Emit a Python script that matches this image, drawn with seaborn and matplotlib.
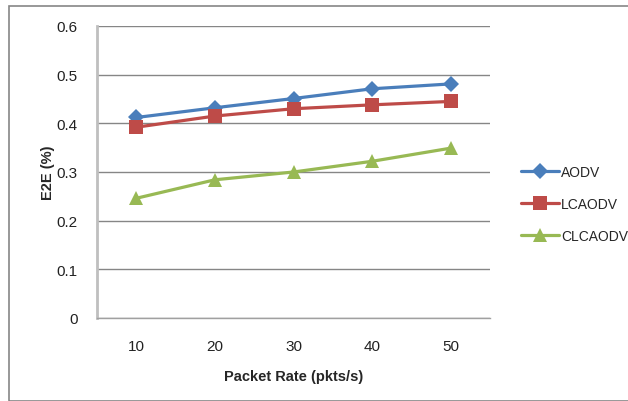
import matplotlib
matplotlib.use("Agg")
import matplotlib.pyplot as plt
import seaborn as sns
import pandas as pd
from matplotlib.patches import Rectangle
from matplotlib.ticker import FixedLocator

categories = ["10", "20", "30", "40", "50"]
aodv = [0.412, 0.432, 0.451, 0.471, 0.481]
lcaodv = [0.392, 0.415, 0.430, 0.438, 0.445]
clcaodv = [0.246, 0.284, 0.300, 0.322, 0.349]
series_names = ["AODV", "LCAODV", "CLCAODV"]
y_ticks = [0, 0.1, 0.2, 0.3, 0.4, 0.5, 0.6]
y_tick_labels = ["0", "0.1", "0.2", "0.3", "0.4", "0.5", "0.6"]

df = pd.DataFrame({
    "rate": categories * 3,
    "value": aodv + lcaodv + clcaodv,
    "series": [series_names[0]] * 5 + [series_names[1]] * 5 + [series_names[2]] * 5,
})

sns.set_theme(style="white")
plt.rcParams["font.family"] = ["Liberation Sans", "DejaVu Sans"]

colors = ["#4A7EBB", "#BE4B48", "#98B954"]
markers = ["D", "s", "^"]
msizes = [8, 10, 10]

fig = plt.figure(figsize=(6.28, 4.02), dpi=100)
ax = fig.add_axes([97 / 628, 1 - 319 / 402, (490 - 97) / 628, (319 - 27) / 402])

for i, name in enumerate(series_names):
    sub = df[df["series"] == name]
    sns.lineplot(data=sub, x="rate", y="value", ax=ax, color=colors[i],
                 marker=markers[i], markersize=msizes[i], markeredgewidth=0,
                 linewidth=2.3, label=name, sort=False)

ax.set_xlim(-0.5, 4.5)
ax.set_ylim(0, 0.6)
ax.set_yticks(y_ticks)
ax.set_yticklabels(y_tick_labels, fontsize=11, color="#222222")
ax.set_xticks(range(len(categories)))
ax.set_xticklabels(categories, fontsize=11, color="#222222")
ax.xaxis.set_minor_locator(FixedLocator([-0.5, 0.5, 1.5, 2.5, 3.5, 4.5]))
ax.tick_params(axis="x", which="major", length=0, pad=15)
ax.tick_params(axis="x", which="minor", length=5, width=1, color="#A0A0A0", direction="out")
ax.tick_params(axis="y", which="major", length=6, width=1, color="#868686", direction="out", pad=8)
ax.yaxis.grid(True, color="#868686", linewidth=1)
ax.xaxis.grid(False)
for s in ["top", "right"]:
    ax.spines[s].set_visible(False)
ax.spines["left"].set_color("#BFBFBF")
ax.spines["left"].set_linewidth(2)
ax.spines["bottom"].set_color("#A0A0A0")
ax.spines["bottom"].set_linewidth(1)
ax.set_axisbelow(True)

ax.set_xlabel("Packet Rate (pkts/s)", fontsize=10.5, fontweight="bold", labelpad=12)
ax.set_ylabel("E2E (%)", fontsize=10.5, fontweight="bold", labelpad=1)

ax.legend(loc="center left", bbox_to_anchor=(508 / 628, 1 - 205 / 402),
          bbox_transform=fig.transFigure, frameon=False, fontsize=10,
          handlelength=2.8, labelspacing=1.3, handletextpad=0.1)

fig.patches.append(Rectangle((9 / 628, 0), 1, 1 - 7 / 402, transform=fig.transFigure,
                             fill=False, edgecolor="#868686", linewidth=1.2))

fig.savefig("out.png", dpi=100)
